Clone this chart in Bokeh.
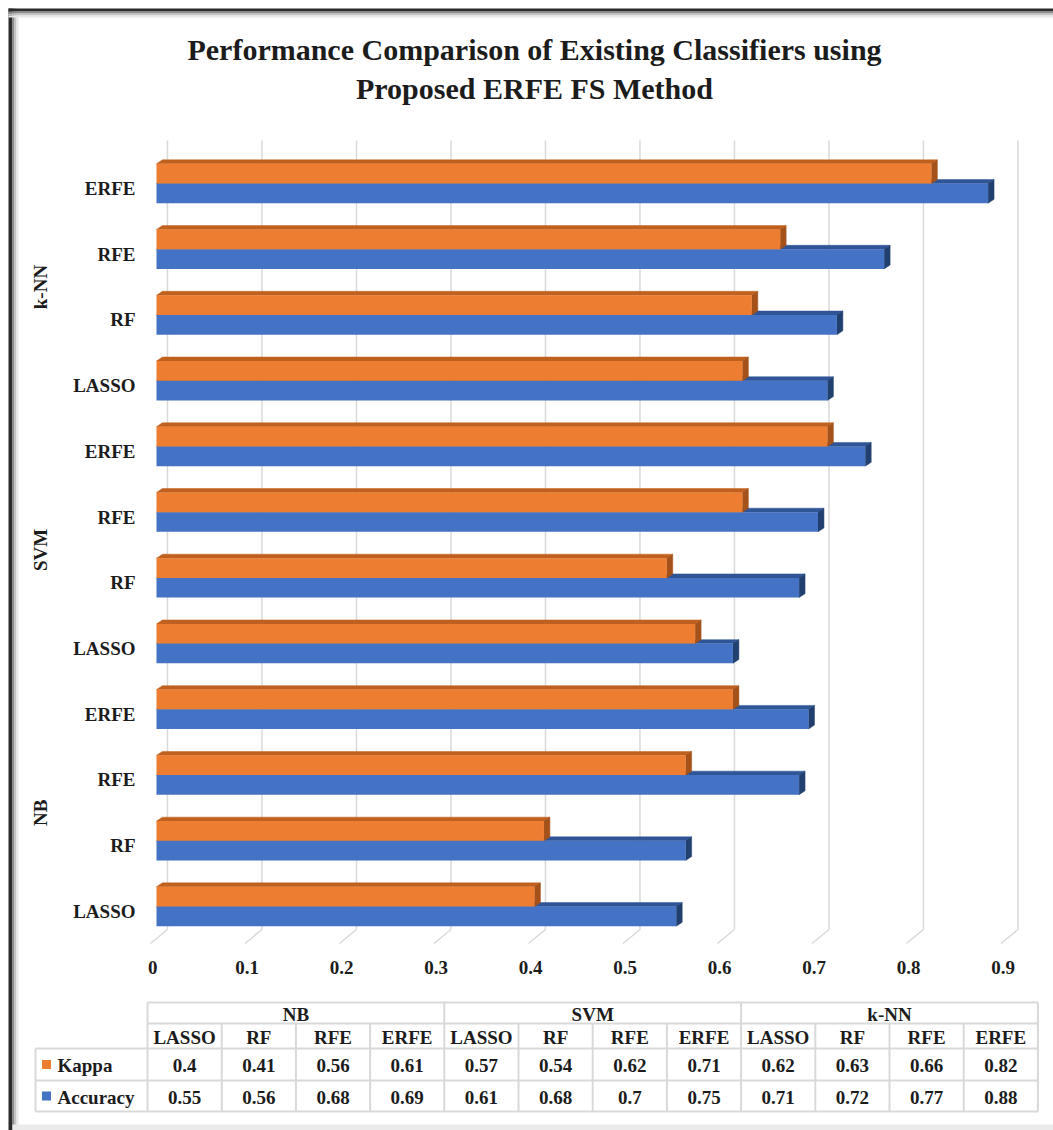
import math
from bokeh.plotting import figure
from bokeh.models import Range1d
from bokeh.embed import file_html
from bokeh.resources import INLINE
from bokeh.core.properties import value

# ---------------- data ----------------
title_lines = ["Performance Comparison of Existing Classifiers using",
               "Proposed ERFE FS Method"]
groups = ["NB", "SVM", "k-NN"]
methods = ["LASSO", "RF", "RFE", "ERFE"]
series = ["Kappa", "Accuracy"]
kappa = [0.40, 0.41, 0.56, 0.61, 0.57, 0.54, 0.62, 0.71, 0.62, 0.63, 0.66, 0.82]
accuracy = [0.55, 0.56, 0.68, 0.69, 0.61, 0.68, 0.70, 0.75, 0.71, 0.72, 0.77, 0.88]
x_ticks = [0, 0.1, 0.2, 0.3, 0.4, 0.5, 0.6, 0.7, 0.8, 0.9]
x_tick_labels = ["0", "0.1", "0.2", "0.3", "0.4", "0.5", "0.6", "0.7", "0.8", "0.9"]

# ---------------- style / layout ----------------
FONT = "Liberation Serif"
TXT = "#1c1c1c"
ORANGE, ORANGE_TOP, ORANGE_SIDE = "#ED7D31", "#C0601F", "#A4521A"
BLUE, BLUE_TOP, BLUE_SIDE = "#4472C4", "#2F5597", "#22406F"
GRID = "#D9D9D9"
W, H = 1053, 1130

n_m = len(methods)
n = len(groups) * n_m
cat_labels = [methods[i % n_m] for i in range(n)]

# value axis: 0 at 156px, 945 px per unit ; category axis: 65.73 px per row
X0PX, XSCALE = 156, 945.0
Y11PX, YSCALE = 183, 65.73
x_rng = Range1d(-X0PX / XSCALE, (W - X0PX) / XSCALE)
y_rng = Range1d((n - 1) - (H - Y11PX) / YSCALE, (n - 1) + Y11PX / YSCALE)

BAR_H = 0.3
DX, DY = 0.0063, 0.06            # 3D depth of bars
GX_BACK, GX_FRONT = 0.0116, -0.0064
Y_TOP = (n - 1) + (Y11PX - 140) / YSCALE
Y_FB, Y_FF = -0.35, -0.563
LABEL_DY = -0.075

p = figure(width=W, height=H, x_range=x_rng, y_range=y_rng,
           output_backend="svg", toolbar_location=None, min_border=0,
           x_axis_type=None, y_axis_type=None)
p.outline_line_color = None
p.grid.visible = False
p.background_fill_color = "white"
p.border_fill_color = "white"

COLW, TL = 74.2, 147
p.extra_x_ranges = {"page": Range1d(0, W),
                    "tcol": Range1d(-TL / COLW, (W - TL) / COLW)}
p.extra_y_ranges = {"page": Range1d(H, 0)}

# ---- picture frame (border + shadow) ----
for (l, r, c) in [(8, 12, "#2b2b2b"), (12, 14, "#8a8a8a"), (14, 16, "#c4c4c4"),
                  (16, 18, "#e8e8e8")]:
    p.quad(left=[l], right=[r], top=[8], bottom=[H], fill_color=c,
           line_color=None, x_range_name="page", y_range_name="page")
for (tp, bt, c) in [(8, 11, "#2b2b2b"), (11, 13, "#8a8a8a"), (13, 15, "#c4c4c4"),
                    (15, 17, "#e8e8e8")]:
    p.quad(left=[8], right=[W], top=[tp], bottom=[bt], fill_color=c,
           line_color=None, x_range_name="page", y_range_name="page")
p.quad(left=[12], right=[W], top=[1124], bottom=[H], fill_color="#ebebeb",
       line_color=None, x_range_name="page", y_range_name="page")

# ---- title ----
p.text(x=[534] * len(title_lines), y=[49 + 39 * k for k in range(len(title_lines))],
       text=title_lines, text_align="center", text_baseline="middle",
       text_font=value(FONT), text_font_style="bold", text_font_size="30px",
       text_color=TXT, x_range_name="page", y_range_name="page")

# ---- back-wall gridlines with floor diagonals ----
gx = [t + GX_BACK for t in x_ticks]
p.segment(x0=gx, y0=[Y_TOP] * len(gx), x1=gx, y1=[Y_FB] * len(gx),
          line_color=GRID, line_width=1.5)
p.segment(x0=gx, y0=[Y_FB] * len(gx), x1=[t + GX_FRONT for t in x_ticks],
          y1=[Y_FF] * len(gx), line_color=GRID, line_width=1.5)


def draw_series(vals, offset, front, top, side):
    yc = [i + offset for i in range(n)]
    tops = [y + BAR_H / 2 for y in yc]
    bots = [y - BAR_H / 2 for y in yc]
    p.patches(xs=[[0, DX, v + DX, v] for v in vals],
              ys=[[t, t + DY, t + DY, t] for t in tops],
              fill_color=top, line_color=top, line_width=0.5)
    p.patches(xs=[[v, v + DX, v + DX, v] for v in vals],
              ys=[[b, b + DY, t + DY, t] for b, t in zip(bots, tops)],
              fill_color=side, line_color=side, line_width=0.5)
    p.hbar(y=yc, height=BAR_H, left=0, right=vals, fill_color=front,
           line_color=None)


draw_series(accuracy, -BAR_H / 2, BLUE, BLUE_TOP, BLUE_SIDE)
draw_series(kappa, BAR_H / 2, ORANGE, ORANGE_TOP, ORANGE_SIDE)

lab_kw = dict(text_font=value(FONT), text_font_style="bold",
              text_font_size="19px", text_color=TXT)

# ---- category (method) labels ----
p.text(x=[135] * n, y=[i + LABEL_DY for i in range(n)], text=cat_labels,
       text_align="right", text_baseline="middle", x_range_name="page",
       **lab_kw)

# ---- group labels (rotated) ----
gcent = [(n_m - 1) / 2 + k * n_m for k in range(len(groups))]
p.text(x=[40] * len(groups), y=[c + LABEL_DY for c in gcent], text=groups,
       angle=math.pi / 2, text_align="center", text_baseline="middle",
       x_range_name="page", **lab_kw)

# ---- value-axis labels ----
p.text(x=[t - 0.004 for t in x_ticks], y=[967] * len(x_ticks),
       text=x_tick_labels, text_align="center", text_baseline="middle",
       y_range_name="page", **lab_kw)

# ---------------- data table ----------------
LEG = (35 - TL) / COLW
rows_y = [1002, 1023, 1048, 1080, 1111]
hx0 = [0, 0, LEG, LEG, LEG]
seg_kw = dict(line_color=GRID, line_width=2, x_range_name="tcol",
              y_range_name="page")
p.segment(x0=hx0, y0=rows_y, x1=[n] * len(rows_y), y1=rows_y, **seg_kw)
vx = list(range(n + 1))
vy0 = [rows_y[0] if (j % n_m == 0) else rows_y[1] for j in vx]
p.segment(x0=vx, y0=vy0, x1=vx, y1=[rows_y[-1]] * len(vx), **seg_kw)
p.segment(x0=[LEG], y0=[rows_y[2]], x1=[LEG], y1=[rows_y[-1]], **seg_kw)

row_c = [(rows_y[k] + rows_y[k + 1]) / 2 + 1 for k in range(4)]
tx_kw = dict(text_baseline="middle", x_range_name="tcol", y_range_name="page",
             **lab_kw)
p.text(x=[k * n_m + n_m / 2 for k in range(len(groups))],
       y=[row_c[0]] * len(groups), text=groups, text_align="center", **tx_kw)
p.text(x=[j + 0.5 for j in range(n)], y=[row_c[1]] * n, text=cat_labels,
       text_align="center", **tx_kw)
p.text(x=[j + 0.5 for j in range(n)], y=[row_c[2]] * n,
       text=[f"{v:g}" for v in kappa], text_align="center", **tx_kw)
p.text(x=[j + 0.5 for j in range(n)], y=[row_c[3]] * n,
       text=[f"{v:g}" for v in accuracy], text_align="center", **tx_kw)
p.scatter(x=[LEG + 11 / COLW] * 2, y=[row_c[2] - 1, row_c[3] - 1],
          marker="square", size=9, fill_color=[ORANGE, BLUE], line_color=None,
          x_range_name="tcol", y_range_name="page")
p.text(x=[LEG + 22 / COLW] * 2, y=[row_c[2], row_c[3]], text=series,
       text_align="left", **tx_kw)

open("out.html", "w").write(file_html(p, INLINE))
